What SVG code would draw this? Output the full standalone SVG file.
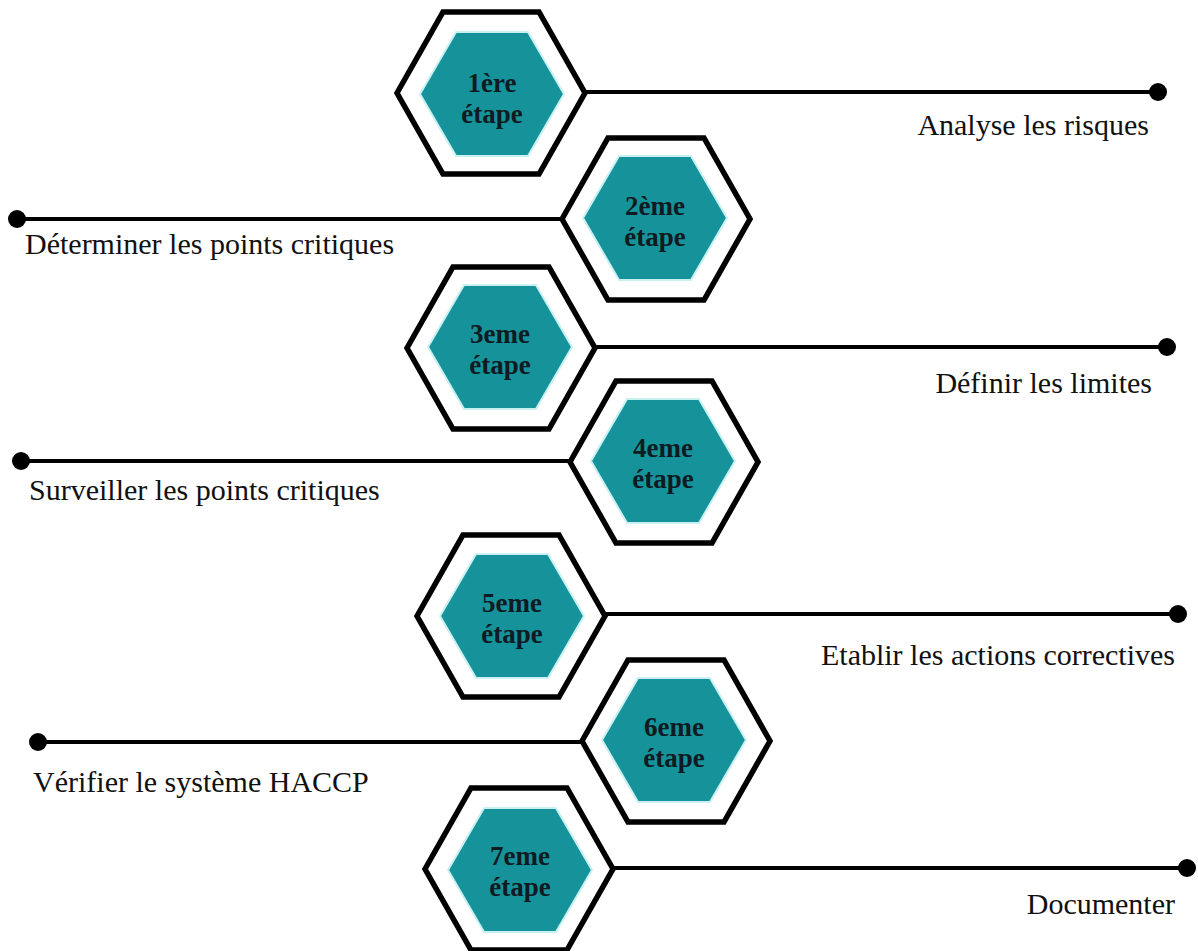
<svg xmlns="http://www.w3.org/2000/svg" xmlns:xlink="http://www.w3.org/1999/xlink" width="1198" height="951" viewBox="0 0 1198 951">
  <style>
    .frame { fill: #ffffff; stroke: #000000; stroke-width: 5.5; stroke-linejoin: miter; }
    .core { fill: #16939a; stroke: #c9f1f2; stroke-width: 2; }
    .step { font-family: "Liberation Serif", "Times New Roman", serif; font-weight: bold; font-size: 27px; fill: #0f1a22; text-anchor: middle; }
    .label { font-family: "Liberation Serif", "Times New Roman", serif; font-size: 30px; fill: #111111; }
    .end { text-anchor: end; }
    .wire { stroke: #000000; stroke-width: 4; fill: none; }
    .dot { fill: #000000; }
  </style>
  <defs>
    <polygon id="hexOuter" points="-94,0 -48,-81 48,-81 94,0 48,81 -48,81"/>
    <polygon id="hexInner" points="-72,0 -36,-62 36,-62 72,0 36,62 -36,62"/>
  </defs>

  <rect width="1198" height="951" fill="#ffffff"/>

  <!-- connectors: horizontal rails ending in a dot -->
  <g id="connectors">
    <line class="wire" x1="585" y1="92" x2="1158" y2="92"/>
    <circle class="dot" cx="1158" cy="92" r="9"/>
    <line class="wire" x1="17" y1="219" x2="562" y2="219"/>
    <circle class="dot" cx="17" cy="219" r="9"/>
    <line class="wire" x1="595" y1="347" x2="1167" y2="347"/>
    <circle class="dot" cx="1167" cy="347" r="9"/>
    <line class="wire" x1="21" y1="461" x2="570" y2="461"/>
    <circle class="dot" cx="21" cy="461" r="9"/>
    <line class="wire" x1="605" y1="614" x2="1178" y2="614"/>
    <circle class="dot" cx="1178" cy="614" r="9"/>
    <line class="wire" x1="38" y1="742" x2="582" y2="742"/>
    <circle class="dot" cx="38" cy="742" r="9"/>
    <line class="wire" x1="613" y1="868" x2="1187" y2="868"/>
    <circle class="dot" cx="1187" cy="868" r="9"/>
  </g>

  <!-- step hexagons -->
  <g id="step1">
    <use xlink:href="#hexOuter" href="#hexOuter" class="frame" x="491" y="93"/>
    <use xlink:href="#hexInner" href="#hexInner" class="core" x="492" y="94"/>
    <text class="step" x="492" y="92">1ère</text>
    <text class="step" x="492" y="123">étape</text>
  </g>
  <g id="step2">
    <use xlink:href="#hexOuter" href="#hexOuter" class="frame" x="656" y="219"/>
    <use xlink:href="#hexInner" href="#hexInner" class="core" x="655" y="218"/>
    <text class="step" x="655" y="215">2ème</text>
    <text class="step" x="655" y="246">étape</text>
  </g>
  <g id="step3">
    <use xlink:href="#hexOuter" href="#hexOuter" class="frame" x="501" y="348"/>
    <use xlink:href="#hexInner" href="#hexInner" class="core" x="500" y="347"/>
    <text class="step" x="500" y="343">3eme</text>
    <text class="step" x="500" y="374">étape</text>
  </g>
  <g id="step4">
    <use xlink:href="#hexOuter" href="#hexOuter" class="frame" x="664" y="462"/>
    <use xlink:href="#hexInner" href="#hexInner" class="core" x="663" y="461"/>
    <text class="step" x="663" y="457">4eme</text>
    <text class="step" x="663" y="488">étape</text>
  </g>
  <g id="step5">
    <use xlink:href="#hexOuter" href="#hexOuter" class="frame" x="511" y="616"/>
    <use xlink:href="#hexInner" href="#hexInner" class="core" x="512" y="616"/>
    <text class="step" x="512" y="612">5eme</text>
    <text class="step" x="512" y="643">étape</text>
  </g>
  <g id="step6">
    <use xlink:href="#hexOuter" href="#hexOuter" class="frame" x="676" y="741"/>
    <use xlink:href="#hexInner" href="#hexInner" class="core" x="674" y="740"/>
    <text class="step" x="674" y="736">6eme</text>
    <text class="step" x="674" y="767">étape</text>
  </g>
  <g id="step7">
    <use xlink:href="#hexOuter" href="#hexOuter" class="frame" x="519" y="869"/>
    <use xlink:href="#hexInner" href="#hexInner" class="core" x="520" y="870"/>
    <text class="step" x="520" y="865">7eme</text>
    <text class="step" x="520" y="896">étape</text>
  </g>

  <!-- rail labels -->
  <g id="labels">
    <text class="label end" x="1149" y="135">Analyse les risques</text>
    <text class="label" x="25" y="254">Déterminer les points critiques</text>
    <text class="label end" x="1152" y="393">Définir les limites</text>
    <text class="label" x="29" y="500">Surveiller les points critiques</text>
    <text class="label end" x="1175" y="665">Etablir les actions correctives</text>
    <text class="label" x="33" y="792">Vérifier le système HACCP</text>
    <text class="label end" x="1175" y="914">Documenter</text>
  </g>
</svg>
